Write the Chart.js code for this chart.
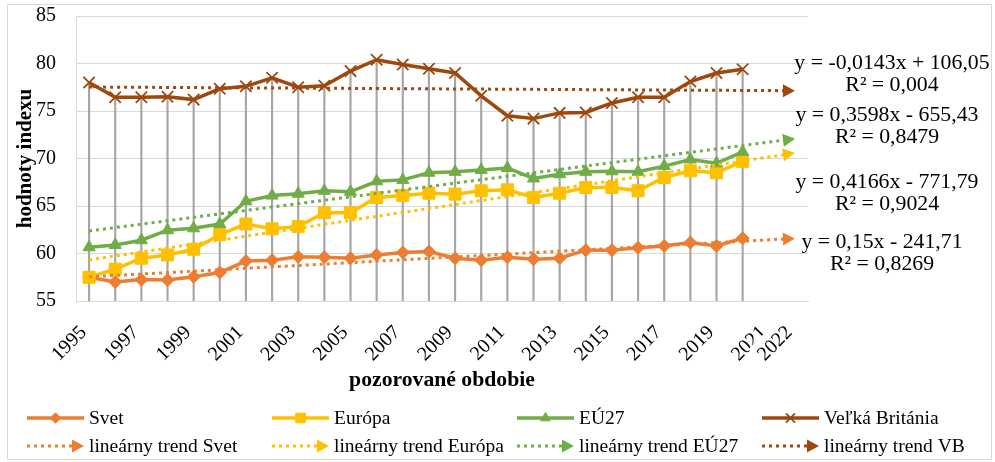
<!DOCTYPE html>
<html>
<head>
<meta charset="utf-8">
<script src="https://cdn.jsdelivr.net/npm/chart.js@4.4.1/dist/chart.umd.min.js"></script>
<style>
html, body { margin: 0; padding: 0; background: #fff; }
#wrap { position: relative; width: 995px; height: 462px; }
</style>
</head>
<body>
<div id="wrap"><canvas id="myChart" width="995" height="462"></canvas></div>
<script>
// categories (trend lines run two periods past the data, to 2022)
let years = ['1995','1996','1997','1998','1999','2000','2001','2002','2003','2004',
	'2005','2006','2007','2008','2009','2010','2011','2012','2013','2014',
	'2015','2016','2017','2018','2019','2020','2021','2022'];

let svet = [57.5, 57.0, 57.25, 57.2, 57.55, 58.0, 59.2, 59.3, 59.65, 59.6,
	59.5, 59.85, 60.1, 60.2, 59.5, 59.3, 59.6, 59.4, 59.5, 60.35,
	60.35, 60.6, 60.8, 61.15, 60.8, 61.6];
let europa = [57.5, 58.35, 59.5, 59.85, 60.45, 62.0, 63.1, 62.6, 62.85, 64.3,
	64.3, 65.9, 66.1, 66.35, 66.25, 66.6, 66.7, 65.9, 66.35, 66.95,
	66.95, 66.6, 68.0, 68.7, 68.5, 69.7];
let eu27 = [60.65, 60.9, 61.4, 62.45, 62.65, 63.1, 65.5, 66.1, 66.3, 66.6,
	66.5, 67.6, 67.75, 68.5, 68.6, 68.8, 69.0, 67.9, 68.35, 68.6,
	68.65, 68.6, 69.2, 69.9, 69.5, 70.7];
let vb = [78.0, 76.45, 76.45, 76.5, 76.2, 77.35, 77.6, 78.5, 77.5, 77.65,
	79.2, 80.4, 79.9, 79.45, 79.0, 76.6, 74.5, 74.2, 74.8, 74.85,
	75.85, 76.45, 76.45, 78.1, 79.0, 79.4];

let seriesNames = ['Svet', 'Európa', 'EÚ27', 'Veľká Británia'];
let trendNames = ['lineárny trend Svet', 'lineárny trend Európa', 'lineárny trend EÚ27', 'lineárny trend VB'];
let trendSlope = [0.15, 0.4166, 0.3598, -0.0143];
let trendIntercept = [-241.71, -771.79, -655.43, 106.05];
let trendR2 = [0.8269, 0.9024, 0.8479, 0.004];
let yTicks = [55, 60, 65, 70, 75, 80, 85];

const fam = "'Liberation Serif', 'Times New Roman', serif";
let colorHex = ['#ED7D31', '#FFC000', '#70AD47', '#9E480E'];
let markers = ['rectRot', 'rect', 'triangle', 'crossRot'];
let markerSize = [6.5, 8.5, 7, 8];

Chart.defaults.font.family = fam;
Chart.defaults.color = '#000';

let datasets = [];
[svet, europa, eu27, vb].forEach(function (d, i) {
	datasets.push({
		type: 'line',
		label: seriesNames[i],
		data: d,
		borderColor: colorHex[i],
		backgroundColor: colorHex[i],
		borderWidth: 3.5,
		pointStyle: markers[i],
		pointRadius: markerSize[i],
		pointBackgroundColor: colorHex[i],
		pointBorderColor: colorHex[i],
		pointBorderWidth: i === 3 ? 1.8 : 1,
		order: 6 - i
	});
});

let first = years[0], last = years[years.length - 1];
trendSlope.forEach(function (a, i) {
	datasets.push({
		type: 'line',
		label: trendNames[i],
		data: [
			{ x: first, y: a * Number(first) + trendIntercept[i] },
			{ x: last, y: a * Number(last) + trendIntercept[i] }
		],
		borderColor: colorHex[i],
		borderWidth: 3,
		borderDash: [3, 4],
		pointRadius: 0,
		order: 2,
		isTrend: true
	});
});

// drop lines from the top series down to the axis
datasets.push({
	type: 'bar',
	label: 'drop',
	data: vb,
	backgroundColor: '#A6A6A6',
	barThickness: 1.5,
	order: 10
});

function fmt(n) {
	return String(Math.abs(n)).replace('.', ',');
}

function arrow(ctx, x, y, ang, len, half, color) {
	ctx.save();
	ctx.translate(x, y);
	ctx.rotate(ang);
	ctx.fillStyle = color;
	ctx.beginPath();
	ctx.moveTo(0, 0);
	ctx.lineTo(-len, -half);
	ctx.lineTo(-len, half);
	ctx.closePath();
	ctx.fill();
	ctx.restore();
}

let extras = {
	id: 'extras',
	beforeDraw: function (chart) {
		let ctx = chart.ctx;
		ctx.save();
		ctx.fillStyle = '#fff';
		ctx.fillRect(0, 0, chart.width, chart.height);
		ctx.strokeStyle = '#D9D9D9';
		ctx.lineWidth = 1;
		ctx.strokeRect(7.5, 4.5, 984, 455);
		ctx.restore();
	},
	afterDatasetsDraw: function (chart) {
		let ctx = chart.ctx;
		// arrow heads at the end of the trend lines
		chart.data.datasets.forEach(function (ds, i) {
			if (!ds.isTrend) return;
			let pts = chart.getDatasetMeta(i).data;
			let p0 = pts[0], p1 = pts[pts.length - 1];
			arrow(ctx, p1.x, p1.y, Math.atan2(p1.y - p0.y, p1.x - p0.x), 12, 6.5, ds.borderColor);
		});
		// trend equations
		let area = chart.chartArea;
		let cx = [74, 79, 79, 84];
		let cy = [242, 182, 115, 63];
		ctx.save();
		ctx.fillStyle = '#000';
		ctx.font = '21.8px ' + fam;
		ctx.textAlign = 'center';
		ctx.textBaseline = 'middle';
		trendSlope.forEach(function (a, i) {
			let b = trendIntercept[i];
			let eq = 'y = ' + (a < 0 ? '-' : '') + fmt(a) + 'x ' + (b < 0 ? '- ' : '+ ') + fmt(b);
			ctx.fillText(eq, area.right + cx[i], cy[i]);
			ctx.fillText('R² = ' + fmt(trendR2[i]), area.right + cx[i], cy[i] + 22);
		});
		ctx.restore();
	},
	afterDraw: function (chart) {
		// legend in a 4 x 2 grid
		let ctx = chart.ctx;
		let items = chart.data.datasets.filter(function (d) { return d.type === 'line'; });
		ctx.save();
		ctx.font = '19.5px ' + fam;
		ctx.textBaseline = 'middle';
		ctx.textAlign = 'left';
		items.forEach(function (ds, k) {
			let x0 = 27 + 245 * (k % 4);
			let y = k < 4 ? 418 : 446;
			ctx.strokeStyle = ds.borderColor;
			ctx.fillStyle = ds.borderColor;
			if (ds.isTrend) {
				ctx.lineWidth = 3;
				ctx.setLineDash([3, 4]);
				ctx.beginPath();
				ctx.moveTo(x0, y);
				ctx.lineTo(x0 + 47, y);
				ctx.stroke();
				ctx.setLineDash([]);
				arrow(ctx, x0 + 57, y, 0, 12, 6.5, ds.borderColor);
			} else {
				ctx.lineWidth = 3.5;
				ctx.beginPath();
				ctx.moveTo(x0, y);
				ctx.lineTo(x0 + 57, y);
				ctx.stroke();
				ctx.lineWidth = ds.pointBorderWidth;
				Chart.helpers.drawPoint(ctx, {
					pointStyle: ds.pointStyle,
					radius: ds.pointRadius * 0.8,
					rotation: 0,
					borderWidth: ds.pointBorderWidth
				}, x0 + 28.5, y);
			}
			ctx.fillStyle = '#000';
			ctx.fillText(ds.label, x0 + 62, y + 1);
		});
		ctx.restore();
	}
};

let ctx = document.getElementById('myChart').getContext('2d');
let myChart = new Chart(ctx, {
	type: 'line',
	data: { labels: years, datasets: datasets },
	plugins: [extras],
	options: {
		responsive: false,
		animation: false,
		events: [],
		layout: { padding: { left: 0, right: 187, top: 16, bottom: 66 } },
		plugins: {
			legend: { display: false },
			tooltip: { enabled: false }
		},
		scales: {
			x: {
				type: 'category',
				offset: true,
				grid: { display: false },
				border: { display: true, color: '#D9D9D9' },
				ticks: {
					autoSkip: false,
					maxRotation: 45,
					minRotation: 45,
					padding: 12,
					labelOffset: -14,
					color: '#000',
					font: { family: fam, size: 20 },
					showLabelBackdrop: true,
					backdropColor: '#fff',
					backdropPadding: 3,
					callback: function (v, i) {
						return (i % 2 === 0 || i === years.length - 1) ? this.getLabelForValue(v) : null;
					}
				},
				title: {
					display: true,
					text: 'pozorované obdobie',
					color: '#000',
					font: { family: fam, size: 21.7, weight: 'bold' },
					padding: { top: 0, bottom: 3 }
				},
				afterFit: function (s) { s.height = 95; }
			},
			y: {
				min: 55,
				max: 85,
				afterBuildTicks: function (s) { s.ticks = yTicks.map(function (v) { return { value: v }; }); },
				grid: { color: '#D9D9D9', drawTicks: false },
				border: { display: true, color: '#D9D9D9' },
				ticks: { padding: 20, color: '#000', font: { family: fam, size: 20 } },
				title: {
					display: true,
					text: 'hodnoty indexu',
					color: '#000',
					font: { family: fam, size: 21, weight: 'bold' },
					padding: { top: 13, bottom: 0 }
				},
				afterFit: function (s) {
					s.width = 76;
					s.paddingTop = 0;
					s.paddingBottom = 0;
				}
			}
		}
	}
});
</script>
</body>
</html>
